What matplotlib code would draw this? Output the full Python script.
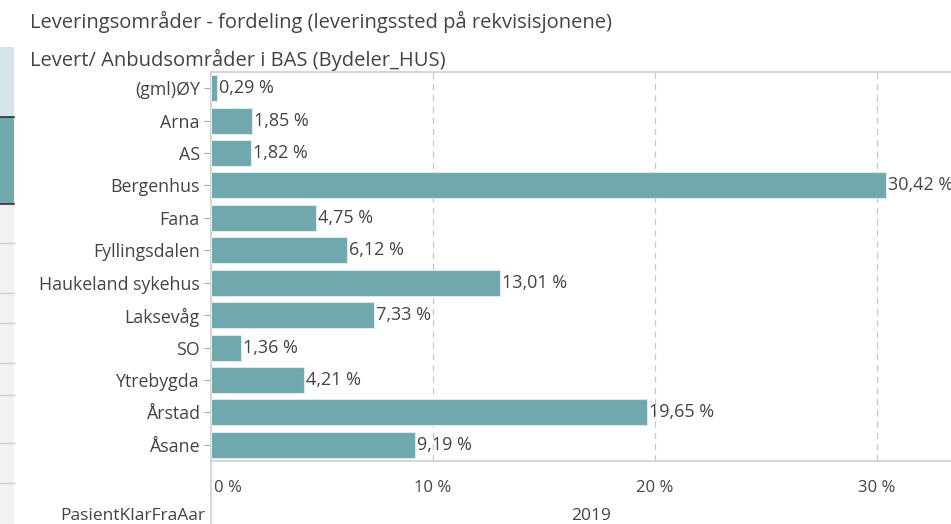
import matplotlib
matplotlib.use("Agg")
import matplotlib.pyplot as plt
import matplotlib.transforms as mtransforms
from matplotlib.patches import Rectangle
from matplotlib.lines import Line2D

plt.rcParams['font.family'] = ['Open Sans', 'DejaVu Sans']

categories = ["(gml)ØY", "Arna", "AS", "Bergenhus", "Fana", "Fyllingsdalen",
              "Haukeland sykehus", "Laksevåg", "SO", "Ytrebygda", "Årstad", "Åsane"]
values = [0.29, 1.85, 1.82, 30.42, 4.75, 6.12, 13.01, 7.33, 1.36, 4.21, 19.65, 9.19]
value_labels = ["0,29 %", "1,85 %", "1,82 %", "30,42 %", "4,75 %", "6,12 %",
                "13,01 %", "7,33 %", "1,36 %", "4,21 %", "19,65 %", "9,19 %"]
xticks = [0, 10, 20, 30]
xtick_labels = ["0 %", "10 %", "20 %", "30 %"]
title = "Leveringsområder - fordeling (leveringssted på rekvisisjonene)"
subtitle = "Levert/ Anbudsområder i BAS (Bydeler_HUS)"
year_label = "2019"
row_header = "PasientKlarFraAar"

TXT = "#444444"
W, H = 951, 524
fig = plt.figure(figsize=(W / 100, H / 100), dpi=100)
fig.patch.set_facecolor("white")

def fx(px):
    return px / W

def fy(py):
    return 1 - py / H

# axes: left x=211, right x=951, top y=72, bottom y=461
ax = fig.add_axes([fx(211), fy(461), fx(951) - fx(211), fy(72) - fy(461)])
bar_color = "#6fa8ad"
ypos = list(range(len(categories)))
ax.barh(ypos, values, height=0.8, color=bar_color, edgecolor="#dbeaeb", linewidth=0.8, zorder=3)
ax.set_ylim(len(categories) - 0.5, -0.5)
ax.set_xlim(0, (951 - 211) / 22.2)
ax.set_yticks(ypos)
ax.set_yticklabels(categories, fontsize=12.8, color=TXT)
ax.tick_params(axis="y", length=5, color="#aaaaaa", pad=3)
ax.set_xticks(xticks)
ax.set_xticklabels([])
ax.tick_params(axis="x", length=0)
ax.grid(axis="x", color="#c8c8c8", linestyle=(0, (5, 4)), linewidth=0.9, zorder=0)
ax.spines["right"].set_visible(False)
for s in ["top", "bottom", "left"]:
    ax.spines[s].set_color("#d0d0d0")
    ax.spines[s].set_linewidth(1.2)

for y, v, lab in zip(ypos, values, value_labels):
    ax.text(v + 0.08, y, lab, va="center", ha="left", fontsize=13, color=TXT, zorder=4)

# x tick labels below axis
tr = mtransforms.blended_transform_factory(ax.transData, fig.transFigure)
for t, lab in zip(xticks, xtick_labels):
    ha = "left" if t == 0 else "center"
    off = 0.15 if t == 0 else 0
    ax.text(t + off, fy(488), lab, transform=tr, ha=ha, va="center",
            fontsize=12, color=TXT, clip_on=False)

# vertical separator line below axis
fig.add_artist(Line2D([fx(211), fx(211)], [fy(461), 0], color="#d0d0d0", linewidth=1.2))

fig.text(fx(591), fy(516), year_label, ha="center", va="center", fontsize=12.5, color=TXT)
fig.text(fx(205), fy(516), row_header, ha="right", va="center", fontsize=12.5, color=TXT)

fig.text(fx(30), fy(22), title, ha="left", va="center", fontsize=14.5, color=TXT)
fig.text(fx(30), fy(60), subtitle, ha="left", va="center", fontsize=14.5, color=TXT)

# left cut-off panel
fig.add_artist(Rectangle((0, fy(117)), fx(14), fy(47) - fy(117), transform=fig.transFigure,
                         facecolor="#d6e5ec", edgecolor="none"))
fig.add_artist(Rectangle((0, fy(204)), fx(14), fy(117) - fy(204), transform=fig.transFigure,
                         facecolor="#6fa8ad", edgecolor="none"))
fig.add_artist(Line2D([0, fx(14)], [fy(117), fy(117)], color="#333333", linewidth=1.2))
fig.add_artist(Line2D([0, fx(14)], [fy(204), fy(204)], color="#333333", linewidth=1.2))
fig.add_artist(Rectangle((0, 0), fx(14), fy(204), transform=fig.transFigure,
                         facecolor="#f2f2f2", edgecolor="none"))
for py in [243, 293, 323, 363, 395, 443, 483]:
    fig.add_artist(Line2D([0, fx(14)], [fy(py), fy(py)], color="#d0d0d0", linewidth=1.0))

fig.savefig("out.png", dpi=100)
